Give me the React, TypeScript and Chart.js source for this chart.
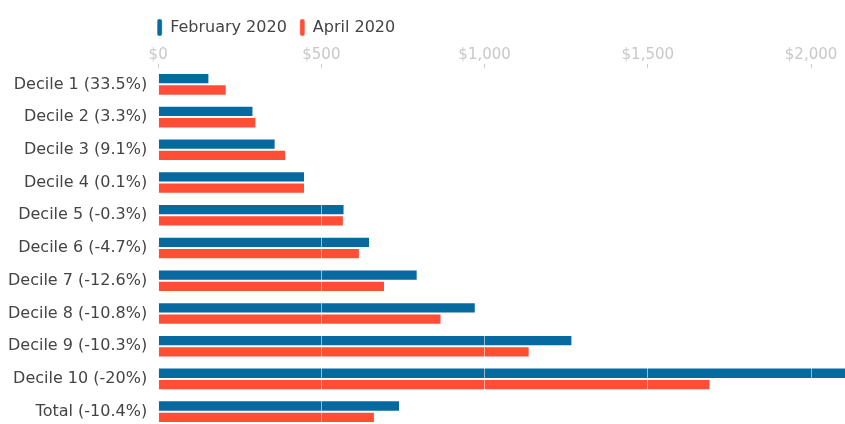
import React, { useEffect, useRef } from "react";
import { Chart, registerables } from "chart.js";

Chart.register(...registerables);

const categories = [
  "Decile 1 (33.5%)",
  "Decile 2 (3.3%)",
  "Decile 3 (9.1%)",
  "Decile 4 (0.1%)",
  "Decile 5 (-0.3%)",
  "Decile 6 (-4.7%)",
  "Decile 7 (-12.6%)",
  "Decile 8 (-10.8%)",
  "Decile 9 (-10.3%)",
  "Decile 10 (-20%)",
  "Total (-10.4%)",
];
const february2020 = [157, 292, 360, 450, 571, 649, 795, 973, 1269, 2115, 741];
const april2020 = [210, 301, 392, 450, 569, 618, 695, 868, 1138, 1692, 664];
const seriesNames = ["February 2020", "April 2020"];
const xTicks = [0, 500, 1000, 1500, 2000];
const xMax = 2104;

const legendShift = {
  id: "legendShift",
  beforeDraw(chart: any) {
    if (chart.legend && chart.chartArea) {
      chart.legend.left = chart.chartArea.left - 14;
    }
  },
};

export default function App() {
  const ref = useRef<HTMLCanvasElement>(null);
  useEffect(() => {
    document.body.style.margin = "0";
    document.body.style.overflow = "hidden";
    const ctx = ref.current!;
    const font = { family: "'DejaVu Sans', sans-serif", size: 16 };
    const tickFont = { family: "'DejaVu Sans', sans-serif", size: 15 };
    const chart = new Chart(ctx, {
      type: "bar",
      data: {
        labels: categories,
        datasets: [
          {
            label: seriesNames[0],
            data: february2020,
            backgroundColor: "#066aa1",
            borderColor: "rgba(255,255,255,0.35)",
            borderWidth: 1,
            categoryPercentage: 0.69,
            barPercentage: 1,
          },
          {
            label: seriesNames[1],
            data: april2020,
            backgroundColor: "#ff4d36",
            borderColor: "rgba(255,255,255,0.35)",
            borderWidth: 1,
            categoryPercentage: 0.69,
            barPercentage: 1,
          },
        ],
      },
      plugins: [legendShift],
      options: {
        indexAxis: "y",
        animation: false,
        responsive: true,
        maintainAspectRatio: false,
        layout: { padding: { left: -3, top: 6, right: 0, bottom: 0 } },
        plugins: {
          tooltip: { enabled: false },
          legend: {
            display: true,
            position: "top",
            align: "start",
            labels: {
              boxWidth: 5,
              boxHeight: 17,
              useBorderRadius: true,
              borderRadius: 2,
              padding: 13,
              color: "#444",
              font,
            },
          },
        },
        scales: {
          x: {
            position: "top",
            min: 0,
            max: xMax,
            border: { display: false },
            afterBuildTicks: (scale: any) => {
              scale.ticks = xTicks.map((v) => ({ value: v }));
            },
            afterFit: (scale: any) => {
              scale.paddingLeft = 0;
              scale.paddingRight = 0;
            },
            grid: {
              z: 1,
              color: "rgba(255,255,255,0.55)",
              lineWidth: 1,
              drawTicks: true,
              tickLength: 4,
              tickColor: "#cccccc",
            },
            ticks: {
              color: "#c8c8c8",
              font: tickFont,
              padding: 0,
              callback: (v: any) => "$" + Number(v).toLocaleString("en-US"),
            },
          },
          y: {
            border: { display: false },
            grid: { display: false, drawTicks: false, tickLength: 0 },
            afterFit: (scale: any) => {
              scale.paddingTop = 0;
              scale.paddingBottom = 0;
            },
            ticks: { color: "#444", font, padding: 11 },
          },
        },
      },
    });
    return () => chart.destroy();
  }, []);
  return (
    <div style={{ width: 845, height: 428, position: "relative" }}>
      <canvas ref={ref} />
    </div>
  );
}
